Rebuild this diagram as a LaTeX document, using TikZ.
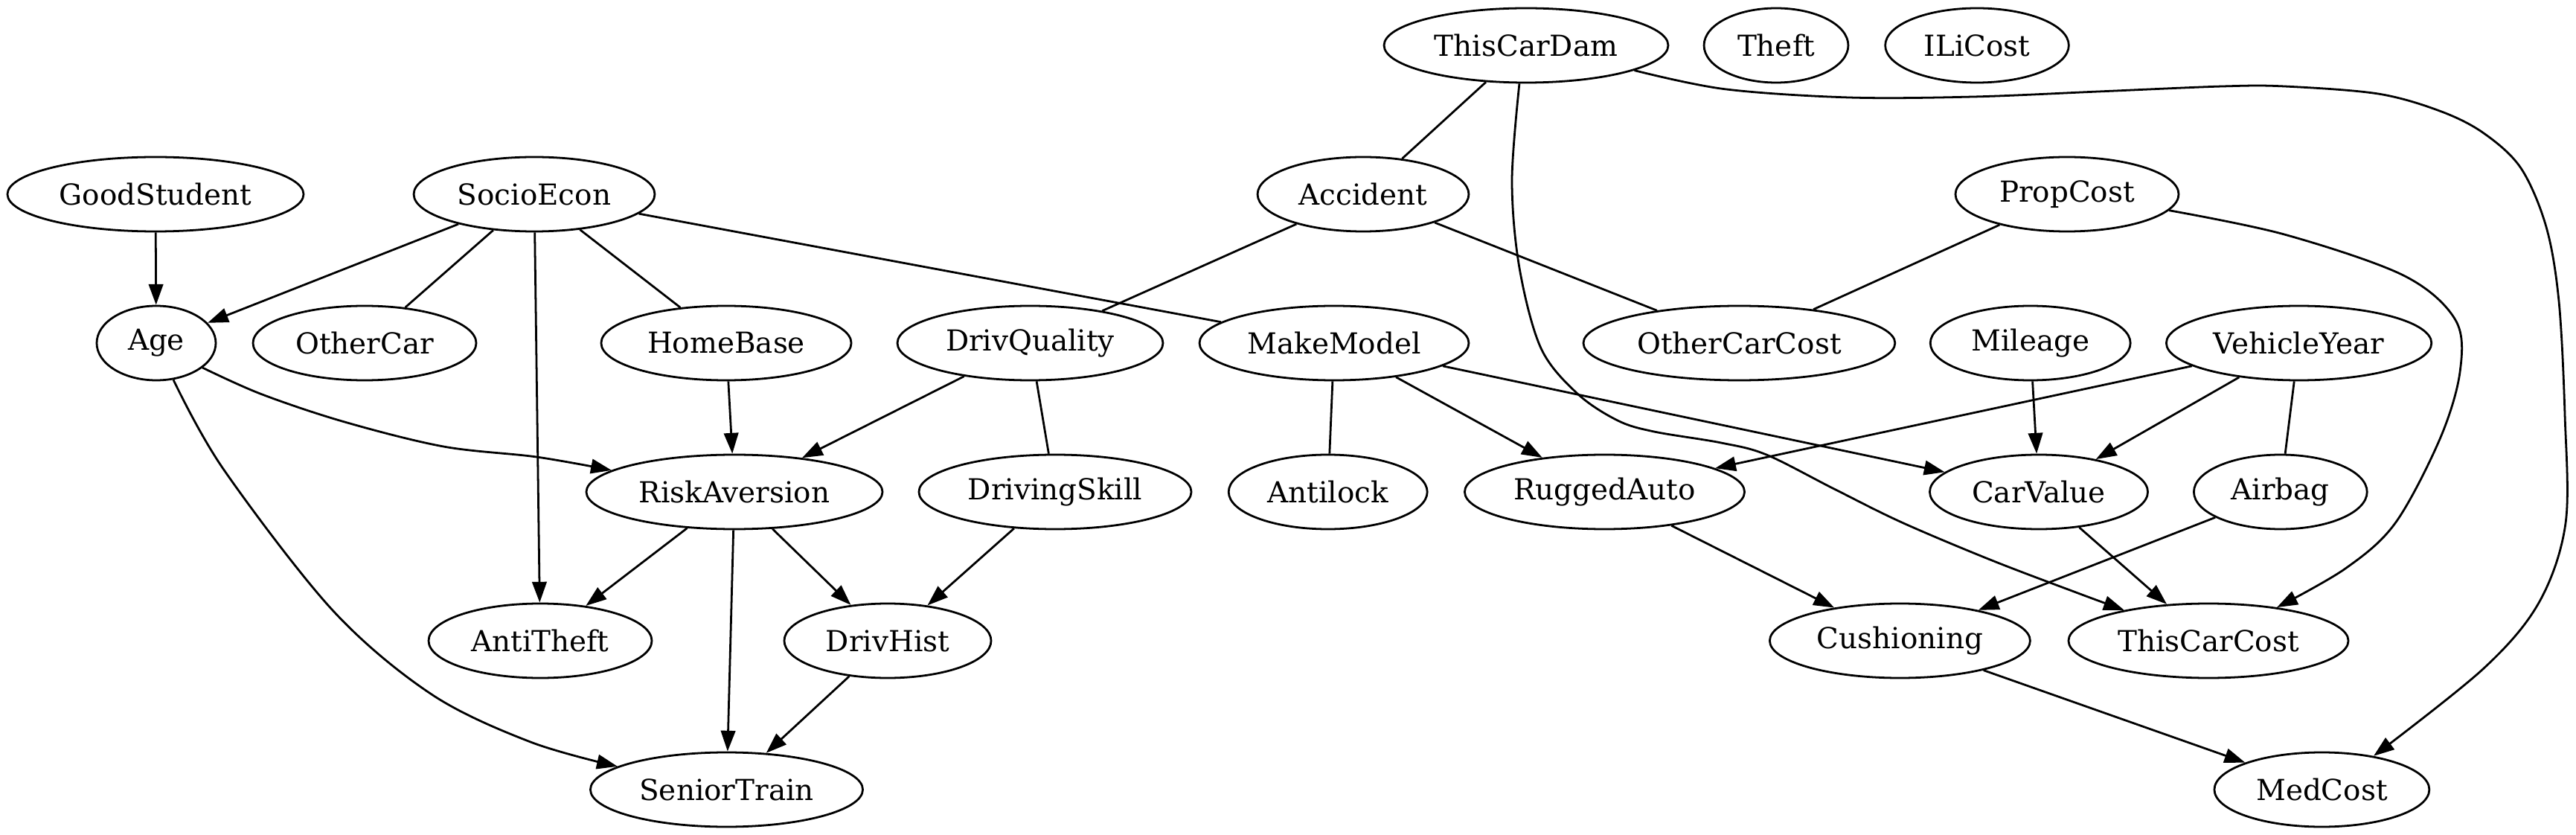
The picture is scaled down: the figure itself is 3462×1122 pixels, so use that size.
\documentclass[tikz,border=0pt]{standalone}
\usepackage{fontspec}
\setmainfont{DejaVu Serif}
\usetikzlibrary{shapes.geometric,arrows.meta}
\begin{document}
\begin{tikzpicture}[x=0.36pt,y=-0.36pt,
  gn/.style={draw, ellipse, line width=1pt, inner sep=0pt, minimum height=36pt,
             font=\fontsize{14}{16}\selectfont},
  ln/.style={line width=1pt},
  arr/.style={line width=1pt, -{Triangle[length=10pt,width=7pt]}},
  sm/.style={smooth, tension=0.55}]
\useasboundingbox (0,0) rectangle (3462,1122);
% row 0
\node[gn, minimum width=137.5pt] (ThisCarDam) at (2051,61) {ThisCarDam};
\node[gn, minimum width=69.8pt] (Theft) at (2387,61) {Theft};
\node[gn, minimum width=88.8pt] (ILiCost) at (2657,61) {ILiCost};
% row 1
\node[gn, minimum width=143.3pt] (GoodStudent) at (209,261) {GoodStudent};
\node[gn, minimum width=116.6pt] (SocioEcon) at (718,261) {SocioEcon};
\node[gn, minimum width=102.2pt] (Accident) at (1832,261) {Accident};
\node[gn, minimum width=108pt] (PropCost) at (2778,261) {PropCost};
% row 2
\node[gn, minimum width=57.6pt] (Age) at (210,461) {Age};
\node[gn, minimum width=108pt] (OtherCar) at (490,461) {OtherCar};
\node[gn, minimum width=121pt] (HomeBase) at (976,461) {HomeBase};
\node[gn, minimum width=128.5pt] (DrivQuality) at (1384.5,461) {DrivQuality};
\node[gn, minimum width=130.3pt] (MakeModel) at (1793,461) {MakeModel};
\node[gn, minimum width=150.8pt] (OtherCarCost) at (2337.4,461) {OtherCarCost};
\node[gn, minimum width=96.8pt] (Mileage) at (2728.7,461) {Mileage};
\node[gn, minimum width=128.3pt] (VehicleYear) at (3089.6,461) {VehicleYear};
% row 3
\node[gn, minimum width=143.3pt] (RiskAversion) at (987,661) {RiskAversion};
\node[gn, minimum width=131.8pt] (DrivingSkill) at (1418,661) {DrivingSkill};
\node[gn, minimum width=96.1pt] (Antilock) at (1784.7,661) {Antilock};
\node[gn, minimum width=135.4pt] (RuggedAuto) at (2156.5,661) {RuggedAuto};
\node[gn, minimum width=105.5pt] (CarValue) at (2740,661) {CarValue};
\node[gn, minimum width=83.8pt] (Airbag) at (3064.8,661) {Airbag};
% row 4
\node[gn, minimum width=108pt] (AntiTheft) at (726,861) {AntiTheft};
\node[gn, minimum width=100.1pt] (DrivHist) at (1193,861) {DrivHist};
\node[gn, minimum width=126pt] (Cushioning) at (2553.4,861) {Cushioning};
\node[gn, minimum width=135.4pt] (ThisCarCost) at (2968,861) {ThisCarCost};
% row 5
\node[gn, minimum width=131.8pt] (SeniorTrain) at (976.5,1061) {SeniorTrain};
\node[gn, minimum width=104pt] (MedCost) at (3120.4,1061) {MedCost};

% straight connectors
\draw[arr] (GoodStudent) -- (Age);
\draw[arr] (SocioEcon) -- (Age);
\draw[ln] (SocioEcon) -- (OtherCar);
\draw[arr] (SocioEcon) -- (AntiTheft);
\draw[ln] (SocioEcon) -- (HomeBase);
\draw[ln] (SocioEcon) -- (MakeModel);
\draw[ln] (ThisCarDam) -- (Accident);
\draw[ln] (Accident) -- (DrivQuality);
\draw[ln] (Accident) -- (OtherCarCost);
\draw[ln] (PropCost) -- (OtherCarCost);
\draw[arr] (HomeBase) -- (RiskAversion);
\draw[arr] (DrivQuality) -- (RiskAversion);
\draw[ln] (DrivQuality) -- (DrivingSkill);
\draw[ln] (MakeModel) -- (Antilock);
\draw[arr] (MakeModel) -- (RuggedAuto);
\draw[arr] (MakeModel) -- (CarValue);
\draw[arr] (Mileage) -- (CarValue);
\draw[arr] (VehicleYear) -- (CarValue);
\draw[arr] (VehicleYear) -- (RuggedAuto);
\draw[ln] (VehicleYear) -- (Airbag);
\draw[arr] (RiskAversion) -- (AntiTheft);
\draw[arr] (RiskAversion) -- (DrivHist);
\draw[arr] (RiskAversion) -- (SeniorTrain);
\draw[arr] (DrivingSkill) -- (DrivHist);
\draw[arr] (DrivHist) -- (SeniorTrain);
\draw[arr] (RuggedAuto) -- (Cushioning);
\draw[arr] (Airbag) -- (Cushioning);
\draw[arr] (CarValue) -- (ThisCarCost);
\draw[arr] (Cushioning) -- (MedCost);

% curved connectors
\draw[arr] plot[sm] coordinates {(Age.-28.6) (351,529.5) (462.5,566.8) (596,600) (721,614) (RiskAversion.170)};
\draw[arr] plot[sm] coordinates {(Age.-65.3) (300,630) (447,820) (580,933) (713,997) (SeniorTrain.168)};
\draw[arr] plot[sm] coordinates {(ThisCarDam.-100.3) (2032,243) (2042,360) (2071,468) (2120,529) (2174,565) (2223,580) (2313,595) (2374,611) (2465,657) (2556,702) (2677,753) (2798,799) (ThisCarCost.160.3)};
\draw[arr] plot[sm] coordinates {(PropCost.-9.5) (3070,315) (3230,370) (3300,430) (3306,500) (3279,590) (3219,703) (3152,764) (ThisCarCost.26.2)};
\draw[arr] plot[sm] coordinates {(ThisCarDam.-13.8) (2317,119.6) (2485,131) (2652,130) (2820,123) (2987,116) (3070,116) (3196,126) (3280,149.5) (3338,179) (3388,226) (3422,305) (3439,405) (3447,557) (3448,703) (3412,810) (3337,899) (MedCost.33.8)};
\end{tikzpicture}
\end{document}
